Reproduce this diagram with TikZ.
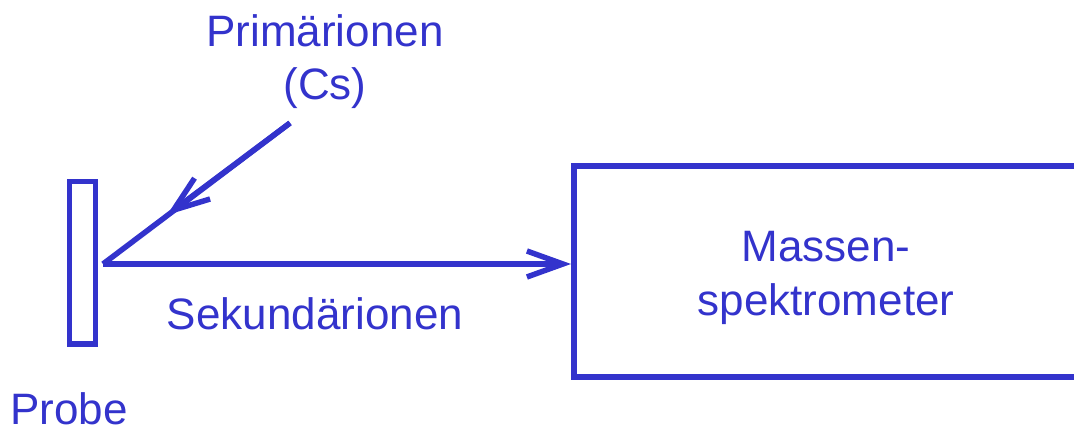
\documentclass[tikz,border=0pt]{standalone}
\usepackage{fontspec}
\setmainfont{Liberation Sans}
\usetikzlibrary{arrows.meta}
\definecolor{ib}{HTML}{3333CC}
\begin{document}
\begin{tikzpicture}[x=1pt,y=-1pt,
  line/.style={draw=ib,line width=5.5pt},
  barb/.style={-{Straight Barb[length=36pt,width=26pt,line width=5.5pt]}},
  lbl/.style={text=ib,font=\fontsize{44}{52}\selectfont,inner sep=0pt,anchor=base}]
\useasboundingbox (0,0) rectangle (1074,435);
\draw[line] (69.5,181.5) rectangle (95.5,344);
\draw[line] (1090,377) -- (574,377) -- (574,166) -- (1090,166);
\coordinate (src) at (290,123);
\coordinate (mid) at (167,215);
\coordinate (hit) at (103,264);
\coordinate (ms) at (571,264);
\draw[line] (src) -- (hit);
\draw[line,barb] (src) -- (mid);
\draw[line,barb] (hit) -- (ms);
\node[lbl] (prim) at (325,47) {Primärionen};
\node[lbl] (cs) at (325,100) {(Cs)};
\node[lbl] (sek) at (315,330) {Sekundärionen};
\node[lbl] (mas) at (826,262) {Massen-};
\node[lbl] (spek) at (826,316) {spektrometer};
\node[lbl,anchor=base west] (probe) at (10,425) {Probe};
\end{tikzpicture}
\end{document}
